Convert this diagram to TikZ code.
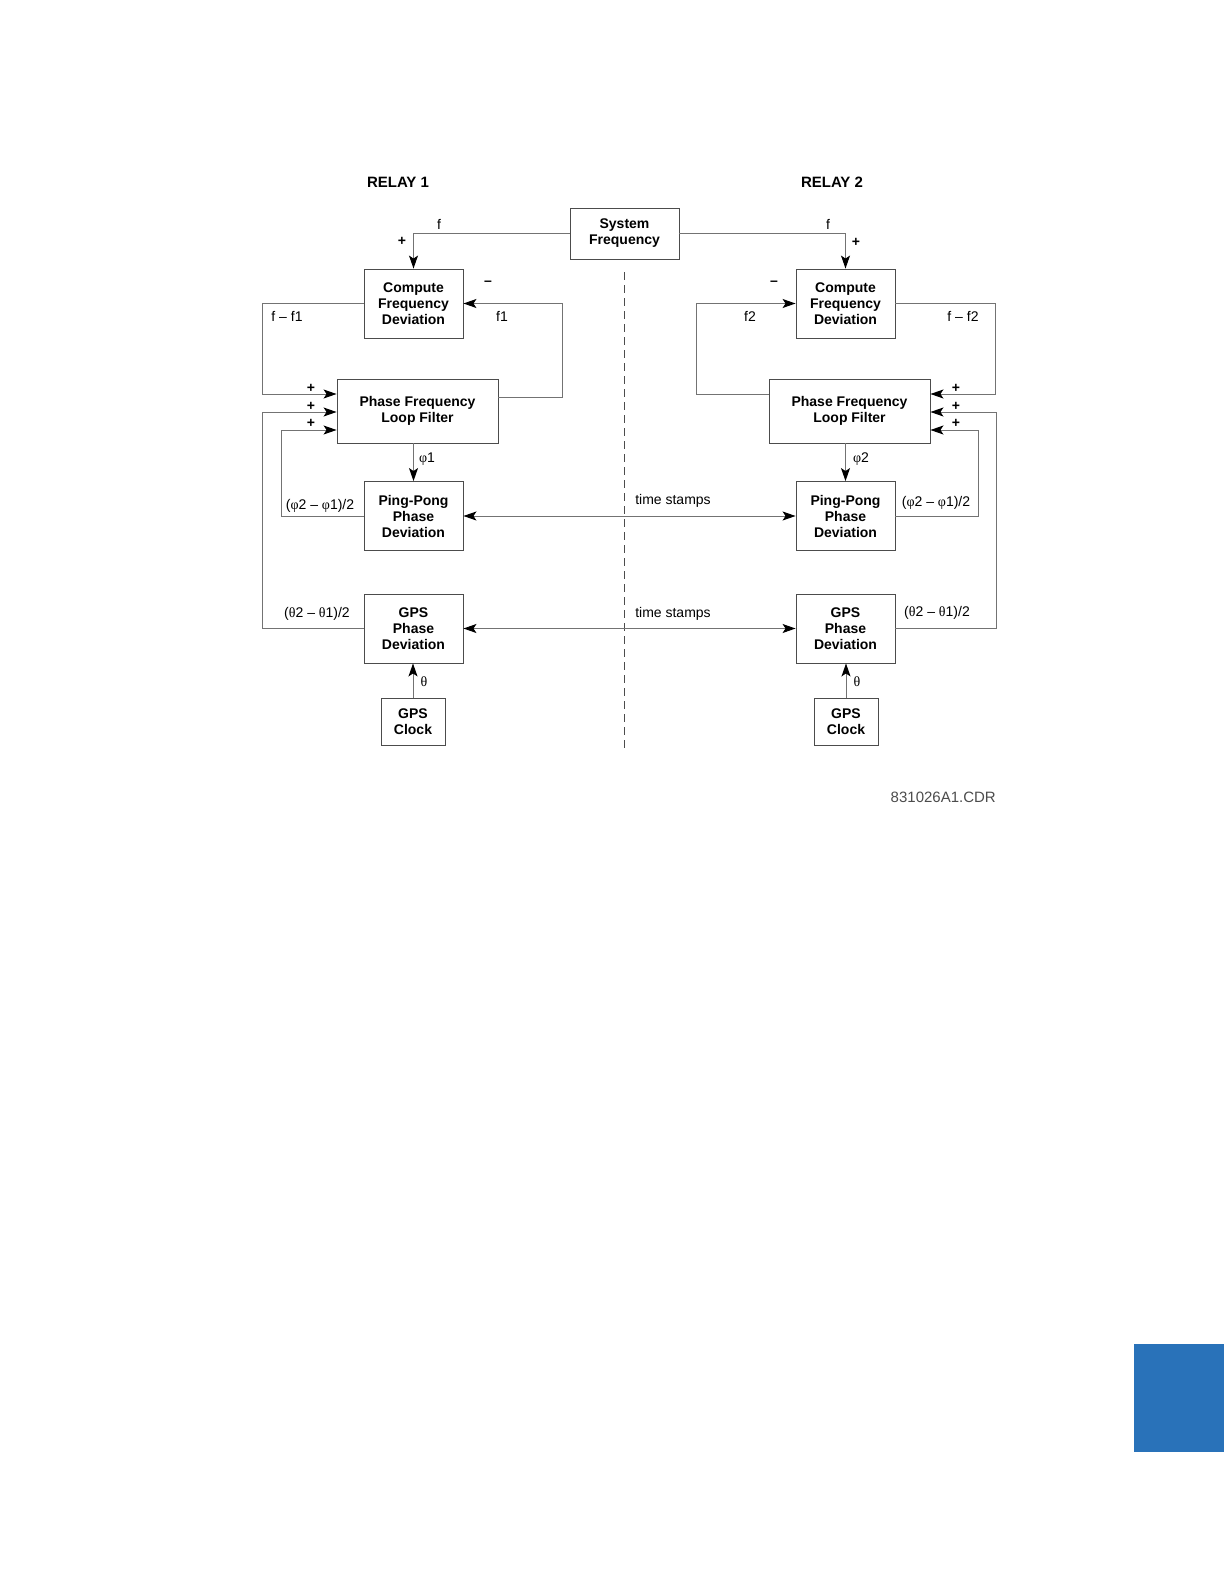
\documentclass[tikz,border=0pt]{standalone}
\usepackage{fontspec}
\setmainfont{Liberation Sans}
\newfontfamily\grk{Liberation Serif}
\usetikzlibrary{arrows.meta}
\definecolor{tabblue}{RGB}{41,114,185}
\begin{document}
\begin{tikzpicture}[x=1pt,y=-1pt,
  box/.style={draw=black!70, line width=0.9pt, fill=white, font=\fontsize{14}{16}\selectfont\bfseries, align=center, inner sep=0pt, minimum width=99pt, minimum height=69pt},
  conn/.style={draw=black!55, line width=1pt},
  tip/.style={-{Stealth[length=13pt,width=9pt,inset=3pt,color=black]}},
  biarrow/.style={{Stealth[length=13pt,width=9pt,inset=3pt,color=black]}-{Stealth[length=13pt,width=9pt,inset=3pt,color=black]}},
  lbl/.style={font=\fontsize{14}{16}\selectfont, inner sep=0pt},
  plus/.style={font=\fontsize{14}{16}\selectfont\bfseries, inner sep=0pt},
  title/.style={font=\fontsize{15}{18}\selectfont\bfseries, inner sep=0pt}]
\useasboundingbox (0,0) rectangle (1224,1584);
\fill[white] (0,0) rectangle (1224,1584);

% titles
\node[title] (r1) at (398,182) {RELAY 1};
\node[title] (r2) at (832,182) {RELAY 2};

% boxes
\node[box, minimum width=109pt, minimum height=51pt] (sys) at (624.5,233.5) {System\\Frequency};
\node[box] (cfd1) at (413.5,303.5) {Compute\\Frequency\\Deviation};
\node[box] (cfd2) at (845.5,303.5) {Compute\\Frequency\\Deviation};
\node[box, minimum width=161pt, minimum height=64pt] (pflf1) at (417.5,411) {Phase Frequency\\Loop Filter};
\node[box, minimum width=161pt, minimum height=64pt] (pflf2) at (849.5,411) {Phase Frequency\\Loop Filter};
\node[box] (pp1) at (413.5,516) {Ping-Pong\\Phase\\Deviation};
\node[box] (pp2) at (845.5,516) {Ping-Pong\\Phase\\Deviation};
\node[box] (gpd1) at (413.5,628.5) {GPS\\Phase\\Deviation};
\node[box] (gpd2) at (845.5,628.5) {GPS\\Phase\\Deviation};
\node[box, minimum width=64pt, minimum height=47pt] (clk1) at (413,721.5) {GPS\\Clock};
\node[box, minimum width=64pt, minimum height=47pt] (clk2) at (846,721.5) {GPS\\Clock};

% dashed separator
\coordinate (dtop) at (624,272);
\coordinate (dbot) at (624,752);
\draw[draw=black!70, line width=1pt, dash pattern=on 8pt off 5pt] (dtop) -- (dbot);

% relay 1 connectors
\draw[conn,tip] (sys.west) -| (cfd1.north);
\draw[conn,tip] ([yshift=14pt]pflf1.east) -- ++(64,0) |- (cfd1.east);
\draw[conn,tip] (cfd1.west) -- ++(-101,0) |- ([yshift=17pt]pflf1.west);
\draw[conn,tip] (gpd1.west) -- ++(-101,0) |- ([yshift=-1pt]pflf1.west);
\draw[conn,tip] (pp1.west) -- ++(-82,0) |- ([yshift=-19pt]pflf1.west);
\draw[conn,tip] (pflf1.south -| pp1.north) -- (pp1.north);
\draw[conn,tip] (clk1.north) -- (gpd1.south -| clk1.north);

% relay 2 connectors
\draw[conn,tip] (sys.east) -| (cfd2.north);
\draw[conn,tip] ([yshift=17pt]pflf2.west) -- ++(-72,0) |- (cfd2.west);
\draw[conn,tip] (cfd2.east) -- ++(100,0) |- ([yshift=17pt]pflf2.east);
\draw[conn,tip] (gpd2.east) -- ++(101,0) |- ([yshift=-1pt]pflf2.east);
\draw[conn,tip] (pp2.east) -- ++(83,0) |- ([yshift=-19pt]pflf2.east);
\draw[conn,tip] (pflf2.south -| pp2.north) -- (pp2.north);
\draw[conn,tip] (clk2.north) -- (gpd2.south -| clk2.north);

% time stamps
\draw[conn,biarrow] (pp1.east) -- (pp2.west);
\draw[conn,biarrow] (gpd1.east) -- (gpd2.west);

% labels relay 1
\node[lbl] (lf1) at (439,224) {f};
\node[plus] (lp1) at (402,241) {+};
\node[plus] (lm1) at (488,283) {–};
\node[lbl] (lff1) at (287,316) {f – f1};
\node[lbl] (lf1b) at (502,316) {f1};
\node[plus] (pa1) at (311,388) {+};
\node[plus] (pb1) at (311,406) {+};
\node[plus] (pc1) at (311,423) {+};
\node[lbl] (lphi1) at (427,459) {{\grk φ}1};
\node[lbl] (lpp1) at (320,506) {({\grk φ}2 – {\grk φ}1)/2};
\node[lbl] (lgp1) at (317,614) {({\grk θ}2 – {\grk θ}1)/2};
\node[lbl] (lth1) at (424,682) {\grk θ};

% labels relay 2
\node[lbl] (lf2) at (828,224) {f};
\node[plus] (lp2) at (856,242) {+};
\node[plus] (lm2) at (774,283) {–};
\node[lbl] (lf2b) at (750,316) {f2};
\node[lbl] (lff2) at (963,316) {f – f2};
\node[plus] (pa2) at (956,388) {+};
\node[plus] (pb2) at (956,406) {+};
\node[plus] (pc2) at (956,423) {+};
\node[lbl] (lphi2) at (861,459) {{\grk φ}2};
\node[lbl] (lpp2) at (936,503) {({\grk φ}2 – {\grk φ}1)/2};
\node[lbl] (lgp2) at (937,613) {({\grk θ}2 – {\grk θ}1)/2};
\node[lbl] (lth2) at (857,682) {\grk θ};

% time stamps labels
\node[lbl] (ts1) at (673,501) {time stamps};
\node[lbl] (ts2) at (673,614) {time stamps};

% drawing number
\node[lbl, font=\fontsize{15}{17}\selectfont, anchor=east, text=black!70] (cdr) at (996,797) {831026A1.CDR};

% page tab
\fill[tabblue] (1134,1344) rectangle (1224,1452);
\end{tikzpicture}
\end{document}
